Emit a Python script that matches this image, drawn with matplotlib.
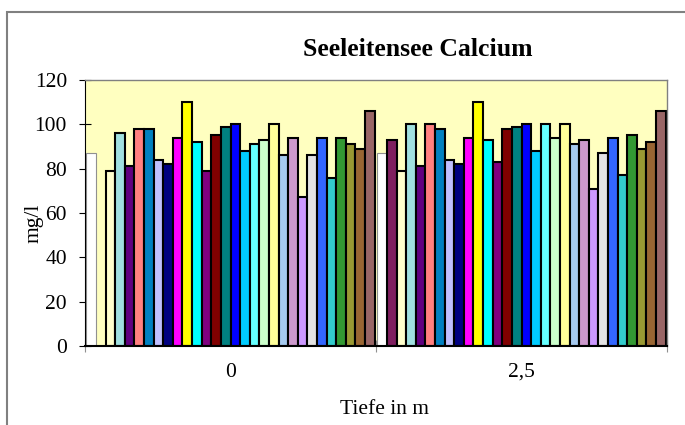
import numpy as np
import matplotlib
matplotlib.use("Agg")
import matplotlib.pyplot as plt
from matplotlib.patches import Rectangle

plt.rcParams['font.family'] = ['Liberation Serif', 'DejaVu Serif']

categories = ['0', '2,5']

# one list per series: value at depth 0 and at depth 2,5 (nan = no bar)
series_values = [
    [87, 87],
    [np.nan, 93],
    [79, 79],
    [96, 100],
    [81, 81],
    [98, 100],
    [98, 98],
    [84, 84],
    [82, 82],
    [94, 94],
    [110, 110],
    [92, 93],
    [79, 83],
    [95, 98],
    [99, 99],
    [100, 100],
    [88, 88],
    [91, 100],
    [93, 94],
    [100, 100],
    [86, 91],
    [94, 93],
    [67, 71],
    [86, 87],
    [94, 94],
    [76, 77],
    [94, 95],
    [91, 89],
    [89, 92],
    [106, 106],
]

colors = ['#FFFFFF', '#7F1F5F', '#FFFFCC', '#A0E0E0', '#600080', '#FF8080',
          '#0080C0', '#C0C0FF', '#000080', '#FF00FF', '#FFFF00', '#00FFFF',
          '#800080', '#800000', '#008080', '#0000FF', '#00CCFF', '#66FFFF',
          '#CCFFCC', '#FFFF99', '#A6CAF0', '#CC99CC', '#CC99FF', '#E3E3E3',
          '#3366FF', '#33CCCC', '#339933', '#999933', '#996633', '#996666']

fig = plt.figure(figsize=(6.85, 4.25), dpi=100)
ax = fig.add_axes([85/685, 1-346/425, (667-85)/685, (346-80)/425])
ax.set_facecolor('#FFFFC0')

x = np.arange(len(categories))
n = len(series_values)
w = 0.033
for k, vals in enumerate(series_values):
    pos = x + (k - (n - 1) / 2) * w
    if k == 0:
        ax.bar(pos, vals, width=w, color=colors[k], edgecolor='#909090',
               linewidth=0.8, zorder=2)
    else:
        ax.bar(pos, vals, width=w, color=colors[k], edgecolor='black',
               linewidth=1.5, zorder=2)

ax.set_xlim(-0.5, 1.5)
ax.set_ylim(0, 120)
ax.set_yticks(np.arange(0, 121, 20))
ax.tick_params(axis='y', direction='inout', length=8, width=0.8,
               labelsize=15.5, pad=9)

ax.set_xticks([-0.5, 0.5, 1.5])
ax.set_xticklabels([])
ax.tick_params(axis='x', which='major', direction='inout', length=8,
               color='#909090')
ax.set_xticks(x, minor=True)
ax.set_xticklabels(categories, minor=True)
ax.tick_params(axis='x', which='minor', length=0, labelsize=15.5, pad=12)

for s in ['top', 'right']:
    ax.spines[s].set_color('#808080')
    ax.spines[s].set_linewidth(1.0)
ax.spines['left'].set_linewidth(0.8)
ax.spines['bottom'].set_linewidth(1.5)

fig.text(418/685, 1-56/425, 'Seeleitensee Calcium', fontsize=18.5,
         fontweight='bold', ha='center', va='baseline')
fig.text(34/685, 1-223/425, 'mg/l', fontsize=15.5, rotation=90,
         ha='center', va='center')
fig.text(384/685, 1-410/425, 'Tiefe in m', fontsize=15.5,
         ha='center', va='center')

fig.patches.append(Rectangle((7/685, -0.1), 1.2, 1.1 - 12/425,
                             transform=fig.transFigure, fill=False,
                             edgecolor='#808080', linewidth=1.5))

fig.savefig('out.png', dpi=100)
